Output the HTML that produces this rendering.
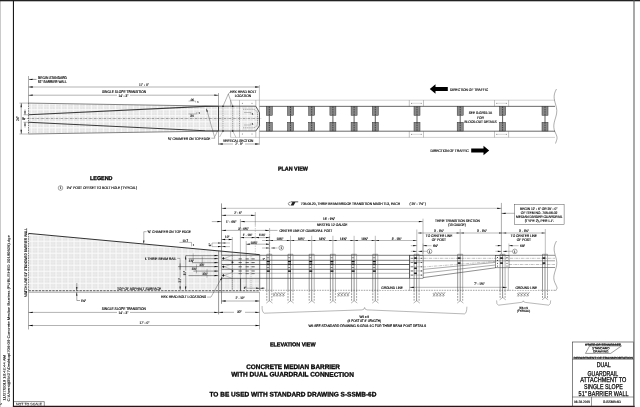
<!DOCTYPE html>
<html><head><meta charset="utf-8"><title>S-SSMB-6D</title>
<style>
html,body{margin:0;padding:0;background:#fff;}
body{width:640px;height:407px;overflow:hidden;}
svg{display:block;font-family:"Liberation Sans",sans-serif;filter:grayscale(1);}
text{fill:#000;}
</style></head><body>
<svg width="640" height="407" viewBox="0 0 640 407">
<rect width="640" height="407" fill="#fff"/>
<defs>
<pattern id="hc" x="30.8" y="109.2" width="6" height="6" patternUnits="userSpaceOnUse"><rect width="6" height="6" fill="#e4e4e4"/><rect x="3.3" width="0.7" height="6" fill="#eeeeee"/><rect y="3.3" width="6" height="0.7" fill="#eeeeee"/><rect width="1.2" height="6" fill="#fafafa"/><rect width="6" height="1.2" fill="#fafafa"/></pattern>
<pattern id="he" x="31.5" y="240.7" width="6" height="6" patternUnits="userSpaceOnUse"><rect width="6" height="6" fill="#e4e4e4"/><rect x="3.3" width="0.7" height="6" fill="#eeeeee"/><rect y="3.3" width="6" height="0.7" fill="#eeeeee"/><rect width="1.2" height="6" fill="#fafafa"/><rect width="6" height="1.2" fill="#fafafa"/></pattern>
</defs>
<rect x="0" y="0" width="0.9" height="407" fill="#c4c4c4" stroke="none" stroke-width="0.5"/>
<rect x="0" y="0" width="640" height="1.3" fill="#222" stroke="none" stroke-width="0.5"/>
<rect x="12.9" y="0" width="1.1" height="407" fill="#1a1a1a" stroke="none" stroke-width="0.5"/>
<rect x="633.5" y="0" width="1" height="407" fill="#555" stroke="none" stroke-width="0.5"/>
<rect x="12.9" y="405.75" width="621.7" height="1.25" fill="#1a1a1a" stroke="none" stroke-width="0.5"/>
<path d="M13 401.6 H44.3 V406" stroke="#222" stroke-width="0.5" fill="none"/>
<text x="16" y="405.33" font-size="3.42" textLength="26" lengthAdjust="spacingAndGlyphs" transform="rotate(0.03 16 405.33)" opacity="0.85" stroke="#000" stroke-width="0.1">NOT TO SCALE</text>
<text x="5.39" y="400.5" font-size="3.29" textLength="45.5" lengthAdjust="spacingAndGlyphs" transform="rotate(-89.97 5.39 400.5)" opacity="0.9" stroke="#000" stroke-width="0.1">11/27/2019 10:42:44 AM</text>
<text x="9.69" y="401.5" font-size="3.29" textLength="166.5" lengthAdjust="spacingAndGlyphs" transform="rotate(-89.97 9.69 401.5)" opacity="0.9" stroke="#000" stroke-width="0.1">C:\Users\jj05427\Desktop\706-09 Concrete Median Barriers (PUBLISHED 20190828).dgn</text>
<text x="2.2" y="405" font-size="3" transform="rotate(-89.97 2.2 405)" opacity="0.7" stroke="#000" stroke-width="0.15">↳</text>
<polygon points="28.5,103.1 218.5,106.2 255.8,106.2 259.5,112.7 259.5,125.7 255.8,131 218.5,131 28.5,134" fill="url(#hc)"/>
<line x1="28.5" y1="103.1" x2="218.5" y2="106.2" stroke="#666" stroke-width="0.8"/>
<line x1="28.5" y1="134" x2="218.5" y2="131" stroke="#666" stroke-width="0.8"/>
<path d="M28.5 114.75 L205 106.4 L218.5 106.2" stroke="#3a3a3a" stroke-width="1.1" fill="none"/>
<path d="M28.5 122.25 L205 130.7 L218.5 131" stroke="#3a3a3a" stroke-width="1.1" fill="none"/>
<line x1="22" y1="118.5" x2="262" y2="118.5" stroke="#333" stroke-width="0.4" stroke-dasharray="2.6 0.8 0.6 0.8"/>
<line x1="28.5" y1="76" x2="28.5" y2="103" stroke="#333" stroke-width="0.4"/>
<line x1="28.5" y1="103" x2="28.5" y2="134" stroke="#333" stroke-width="0.6" stroke-dasharray="1.6 0.8"/>
<text x="38.1" y="78.76" font-size="3.78" textLength="28.8" lengthAdjust="spacingAndGlyphs" transform="rotate(0.03 38.1 78.76)" stroke="#000" stroke-width="0.15">BEGIN STANDARD</text>
<text x="38.1" y="83.06" font-size="3.78" textLength="28.8" lengthAdjust="spacingAndGlyphs" transform="rotate(0.03 38.1 83.06)" stroke="#000" stroke-width="0.15">51" BARRIER WALL</text>
<line x1="29" y1="79.4" x2="36.5" y2="79.4" stroke="#000" stroke-width="0.4"/>
<polygon points="28.7,79.4 32.5,78.8 32.5,80" fill="#000"/>
<line x1="28.5" y1="87" x2="259.4" y2="87" stroke="#222" stroke-width="0.35"/>
<polygon points="28.5,87 32.7,86.35 32.7,87.65" fill="#000"/>
<polygon points="259.4,87 255.2,87.65 255.2,86.35" fill="#000"/>
<text x="139.12" y="85.92" font-size="3.66" textLength="9.77" lengthAdjust="spacingAndGlyphs" transform="rotate(0.03 139.12 85.92)" stroke="#000" stroke-width="0.15">17' - 0"</text>
<line x1="28.5" y1="95.2" x2="117" y2="95.2" stroke="#222" stroke-width="0.35"/>
<line x1="130" y1="95.2" x2="218.5" y2="95.2" stroke="#222" stroke-width="0.35"/>
<polygon points="28.5,95.2 32.7,94.55 32.7,95.85" fill="#000"/>
<polygon points="218.5,95.2 214.3,95.85 214.3,94.55" fill="#000"/>
<text x="102" y="92.86" font-size="3.78" textLength="44" lengthAdjust="spacingAndGlyphs" transform="rotate(0.03 102 92.86)" stroke="#000" stroke-width="0.15">SINGLE SLOPE TRANSITION</text>
<text x="118.62" y="96.52" font-size="3.66" textLength="9.77" lengthAdjust="spacingAndGlyphs" transform="rotate(0.03 118.62 96.52)" stroke="#000" stroke-width="0.15">14' - 3"</text>
<line x1="218.5" y1="93" x2="218.5" y2="144.8" stroke="#333" stroke-width="0.4"/>
<line x1="259.4" y1="85" x2="259.4" y2="144.8" stroke="#555" stroke-width="0.35"/>
<line x1="19.4" y1="103.1" x2="28.5" y2="103.1" stroke="#333" stroke-width="0.35"/>
<line x1="19.4" y1="134" x2="28.5" y2="134" stroke="#333" stroke-width="0.35"/>
<line x1="21.2" y1="103.1" x2="21.2" y2="134" stroke="#222" stroke-width="0.35"/>
<polygon points="21.2,103.1 21.85,107.3 20.55,107.3" fill="#000"/>
<polygon points="21.2,134 20.55,129.8 21.85,129.8" fill="#000"/>
<text x="19.22" y="120.7" font-size="3.66" textLength="4.2" lengthAdjust="spacingAndGlyphs" transform="rotate(-89.97 19.22 120.7)" stroke="#000" stroke-width="0.15">24"</text>
<line x1="23.5" y1="114.75" x2="28.5" y2="114.75" stroke="#333" stroke-width="0.35"/>
<line x1="23.5" y1="122.25" x2="28.5" y2="122.25" stroke="#333" stroke-width="0.35"/>
<line x1="25" y1="109.5" x2="25" y2="114.75" stroke="#000" stroke-width="0.35"/>
<polygon points="25,114.75 24.43,111.15 25.57,111.15" fill="#000"/>
<line x1="25" y1="127.5" x2="25" y2="122.25" stroke="#000" stroke-width="0.35"/>
<polygon points="25,122.25 25.57,125.85 24.43,125.85" fill="#000"/>
<text x="24.53" y="120" font-size="3.42" textLength="2.8" lengthAdjust="spacingAndGlyphs" transform="rotate(-89.97 24.53 120)" stroke="#000" stroke-width="0.15">8"</text>
<line x1="218.5" y1="106.2" x2="218.5" y2="131" stroke="#333" stroke-width="0.9"/>
<line x1="218.5" y1="106.2" x2="255.8" y2="106.2" stroke="#333" stroke-width="0.8"/>
<line x1="218.5" y1="131" x2="255.8" y2="131" stroke="#333" stroke-width="0.8"/>
<path d="M255.8 106.2 L259.5 112.7 V125.7 L255.8 131" stroke="#333" stroke-width="0.8" fill="none"/>
<path d="M243 109.3 H253 Q257.5 110 257.5 114 V123 Q257.5 127.5 253 127.8 H243" stroke="#444" stroke-width="0.45" fill="none" stroke-dasharray="1.4 0.7"/>
<line x1="223" y1="106.2" x2="223" y2="131" stroke="#444" stroke-width="0.45" stroke-dasharray="1.4 0.7"/>
<line x1="232.7" y1="106.2" x2="232.7" y2="131" stroke="#444" stroke-width="0.45" stroke-dasharray="1.4 0.7"/>
<line x1="239.5" y1="106.2" x2="239.5" y2="131" stroke="#444" stroke-width="0.45" stroke-dasharray="1.4 0.7"/>
<circle cx="223" cy="106.2" r="0.8" fill="#111"/>
<circle cx="223" cy="131" r="0.8" fill="#111"/>
<circle cx="232.7" cy="106.2" r="0.8" fill="#111"/>
<circle cx="232.7" cy="131" r="0.8" fill="#111"/>
<text x="251.9" y="115.05" font-size="2.93" textLength="1.4" lengthAdjust="spacingAndGlyphs" transform="rotate(0.03 251.9 115.05)" stroke="#000" stroke-width="0.15">1</text>
<text x="251.9" y="124.75" font-size="2.93" textLength="1.4" lengthAdjust="spacingAndGlyphs" transform="rotate(0.03 251.9 124.75)" stroke="#000" stroke-width="0.15">1</text>
<line x1="244" y1="112.5" x2="251" y2="112.5" stroke="#444" stroke-width="0.3"/>
<line x1="244" y1="125" x2="251" y2="125" stroke="#444" stroke-width="0.3"/>
<line x1="251" y1="112.5" x2="251" y2="114.5" stroke="#444" stroke-width="0.3"/>
<line x1="251" y1="125" x2="251" y2="123" stroke="#444" stroke-width="0.3"/>
<text x="230" y="93.02" font-size="3.66" textLength="26.3" lengthAdjust="spacingAndGlyphs" transform="rotate(0.03 230 93.02)" stroke="#000" stroke-width="0.15">HEX HEAD BOLT</text>
<text x="234.7" y="96.92" font-size="3.66" textLength="16.3" lengthAdjust="spacingAndGlyphs" transform="rotate(0.03 234.7 96.92)" stroke="#000" stroke-width="0.15">LOCATION</text>
<path d="M230 92 L228.3 94 L223.3 105.6 M228.3 94 L232.4 105.6" stroke="#222" stroke-width="0.35" fill="none"/>
<line x1="230.6" y1="100.2" x2="555" y2="100.2" stroke="#999" stroke-width="0.45"/>
<line x1="230.6" y1="137.4" x2="555" y2="137.4" stroke="#999" stroke-width="0.45"/>
<line x1="259.5" y1="106.35" x2="555" y2="106.35" stroke="#444" stroke-width="0.8"/>
<line x1="259.5" y1="131.2" x2="555" y2="131.2" stroke="#444" stroke-width="0.8"/>
<line x1="230.6" y1="100.2" x2="230.6" y2="106.2" stroke="#555" stroke-width="0.35"/>
<line x1="230.6" y1="131" x2="230.6" y2="137.4" stroke="#555" stroke-width="0.35"/>
<line x1="239.5" y1="100.2" x2="239.5" y2="106.2" stroke="#555" stroke-width="0.35"/>
<line x1="239.5" y1="131" x2="239.5" y2="137.4" stroke="#555" stroke-width="0.35"/>
<line x1="255.8" y1="100.2" x2="255.8" y2="106.2" stroke="#555" stroke-width="0.35"/>
<line x1="255.8" y1="131" x2="255.8" y2="137.4" stroke="#555" stroke-width="0.35"/>
<circle cx="242.3" cy="103.3" r="0.45" fill="#222"/>
<circle cx="242.3" cy="134" r="0.45" fill="#222"/>
<circle cx="252" cy="103.3" r="0.45" fill="#222"/>
<circle cx="252" cy="134" r="0.45" fill="#222"/>
<path d="M223 131 L219.5 137 M232.7 131 L236 137.5" stroke="#444" stroke-width="0.3" fill="none"/>
<rect x="266.3" y="106.6" width="6" height="8.7" fill="#8a8a8a" stroke="#333" stroke-width="0.5"/>
<rect x="266.3" y="122.3" width="6" height="8.7" fill="#8a8a8a" stroke="#333" stroke-width="0.5"/>
<line x1="269.3" y1="106.6" x2="269.3" y2="115.3" stroke="#111" stroke-width="0.6" stroke-dasharray="1.5 0.8"/>
<line x1="269.3" y1="122.3" x2="269.3" y2="131" stroke="#111" stroke-width="0.6" stroke-dasharray="1.5 0.8"/>
<line x1="269.3" y1="115.3" x2="269.3" y2="122.3" stroke="#333" stroke-width="0.8"/>
<rect x="287.5" y="106.6" width="6" height="8.7" fill="#8a8a8a" stroke="#333" stroke-width="0.5"/>
<rect x="287.5" y="122.3" width="6" height="8.7" fill="#8a8a8a" stroke="#333" stroke-width="0.5"/>
<line x1="290.5" y1="106.6" x2="290.5" y2="115.3" stroke="#111" stroke-width="0.6" stroke-dasharray="1.5 0.8"/>
<line x1="290.5" y1="122.3" x2="290.5" y2="131" stroke="#111" stroke-width="0.6" stroke-dasharray="1.5 0.8"/>
<line x1="290.5" y1="115.3" x2="290.5" y2="122.3" stroke="#333" stroke-width="0.8"/>
<rect x="308.7" y="106.6" width="6" height="8.7" fill="#8a8a8a" stroke="#333" stroke-width="0.5"/>
<rect x="308.7" y="122.3" width="6" height="8.7" fill="#8a8a8a" stroke="#333" stroke-width="0.5"/>
<line x1="311.7" y1="106.6" x2="311.7" y2="115.3" stroke="#111" stroke-width="0.6" stroke-dasharray="1.5 0.8"/>
<line x1="311.7" y1="122.3" x2="311.7" y2="131" stroke="#111" stroke-width="0.6" stroke-dasharray="1.5 0.8"/>
<line x1="311.7" y1="115.3" x2="311.7" y2="122.3" stroke="#333" stroke-width="0.8"/>
<rect x="329.9" y="106.6" width="6" height="8.7" fill="#8a8a8a" stroke="#333" stroke-width="0.5"/>
<rect x="329.9" y="122.3" width="6" height="8.7" fill="#8a8a8a" stroke="#333" stroke-width="0.5"/>
<line x1="332.9" y1="106.6" x2="332.9" y2="115.3" stroke="#111" stroke-width="0.6" stroke-dasharray="1.5 0.8"/>
<line x1="332.9" y1="122.3" x2="332.9" y2="131" stroke="#111" stroke-width="0.6" stroke-dasharray="1.5 0.8"/>
<line x1="332.9" y1="115.3" x2="332.9" y2="122.3" stroke="#333" stroke-width="0.8"/>
<rect x="351.1" y="106.6" width="6" height="8.7" fill="#8a8a8a" stroke="#333" stroke-width="0.5"/>
<rect x="351.1" y="122.3" width="6" height="8.7" fill="#8a8a8a" stroke="#333" stroke-width="0.5"/>
<line x1="354.1" y1="106.6" x2="354.1" y2="115.3" stroke="#111" stroke-width="0.6" stroke-dasharray="1.5 0.8"/>
<line x1="354.1" y1="122.3" x2="354.1" y2="131" stroke="#111" stroke-width="0.6" stroke-dasharray="1.5 0.8"/>
<line x1="354.1" y1="115.3" x2="354.1" y2="122.3" stroke="#333" stroke-width="0.8"/>
<rect x="372.3" y="106.6" width="6" height="8.7" fill="#8a8a8a" stroke="#333" stroke-width="0.5"/>
<rect x="372.3" y="122.3" width="6" height="8.7" fill="#8a8a8a" stroke="#333" stroke-width="0.5"/>
<line x1="375.3" y1="106.6" x2="375.3" y2="115.3" stroke="#111" stroke-width="0.6" stroke-dasharray="1.5 0.8"/>
<line x1="375.3" y1="122.3" x2="375.3" y2="131" stroke="#111" stroke-width="0.6" stroke-dasharray="1.5 0.8"/>
<line x1="375.3" y1="115.3" x2="375.3" y2="122.3" stroke="#333" stroke-width="0.8"/>
<rect x="414" y="106.6" width="6" height="8.7" fill="#8a8a8a" stroke="#333" stroke-width="0.5"/>
<rect x="414" y="122.3" width="6" height="8.7" fill="#8a8a8a" stroke="#333" stroke-width="0.5"/>
<line x1="417" y1="106.6" x2="417" y2="115.3" stroke="#111" stroke-width="0.6" stroke-dasharray="1.5 0.8"/>
<line x1="417" y1="122.3" x2="417" y2="131" stroke="#111" stroke-width="0.6" stroke-dasharray="1.5 0.8"/>
<line x1="417" y1="115.3" x2="417" y2="122.3" stroke="#333" stroke-width="0.8"/>
<rect x="457.2" y="106.6" width="6" height="8.7" fill="#8a8a8a" stroke="#333" stroke-width="0.5"/>
<rect x="457.2" y="122.3" width="6" height="8.7" fill="#8a8a8a" stroke="#333" stroke-width="0.5"/>
<line x1="460.2" y1="106.6" x2="460.2" y2="115.3" stroke="#111" stroke-width="0.6" stroke-dasharray="1.5 0.8"/>
<line x1="460.2" y1="122.3" x2="460.2" y2="131" stroke="#111" stroke-width="0.6" stroke-dasharray="1.5 0.8"/>
<line x1="460.2" y1="115.3" x2="460.2" y2="122.3" stroke="#333" stroke-width="0.8"/>
<rect x="499.6" y="106.6" width="6" height="8.7" fill="#8a8a8a" stroke="#333" stroke-width="0.5"/>
<rect x="499.6" y="122.3" width="6" height="8.7" fill="#8a8a8a" stroke="#333" stroke-width="0.5"/>
<line x1="502.6" y1="106.6" x2="502.6" y2="115.3" stroke="#111" stroke-width="0.6" stroke-dasharray="1.5 0.8"/>
<line x1="502.6" y1="122.3" x2="502.6" y2="131" stroke="#111" stroke-width="0.6" stroke-dasharray="1.5 0.8"/>
<line x1="502.6" y1="115.3" x2="502.6" y2="122.3" stroke="#333" stroke-width="0.8"/>
<rect x="542" y="106.6" width="6" height="8.7" fill="#8a8a8a" stroke="#333" stroke-width="0.5"/>
<rect x="542" y="122.3" width="6" height="8.7" fill="#8a8a8a" stroke="#333" stroke-width="0.5"/>
<line x1="545" y1="106.6" x2="545" y2="115.3" stroke="#111" stroke-width="0.6" stroke-dasharray="1.5 0.8"/>
<line x1="545" y1="122.3" x2="545" y2="131" stroke="#111" stroke-width="0.6" stroke-dasharray="1.5 0.8"/>
<line x1="545" y1="115.3" x2="545" y2="122.3" stroke="#333" stroke-width="0.8"/>
<line x1="409.3" y1="100.2" x2="409.3" y2="106.3" stroke="#555" stroke-width="0.35"/>
<line x1="423.5" y1="100.2" x2="423.5" y2="106.3" stroke="#555" stroke-width="0.35"/>
<line x1="411.8" y1="103.25" x2="421" y2="103.25" stroke="#666" stroke-width="0.25"/>
<circle cx="411.6" cy="103.25" r="0.45" fill="#222"/>
<circle cx="421.2" cy="103.25" r="0.45" fill="#222"/>
<line x1="409.3" y1="131.2" x2="409.3" y2="137.4" stroke="#555" stroke-width="0.35"/>
<line x1="423.5" y1="131.2" x2="423.5" y2="137.4" stroke="#555" stroke-width="0.35"/>
<line x1="411.8" y1="134.3" x2="421" y2="134.3" stroke="#666" stroke-width="0.25"/>
<circle cx="411.6" cy="134.3" r="0.45" fill="#222"/>
<circle cx="421.2" cy="134.3" r="0.45" fill="#222"/>
<line x1="494.5" y1="100.2" x2="494.5" y2="106.3" stroke="#555" stroke-width="0.35"/>
<line x1="508.6" y1="100.2" x2="508.6" y2="106.3" stroke="#555" stroke-width="0.35"/>
<line x1="497" y1="103.25" x2="506.1" y2="103.25" stroke="#666" stroke-width="0.25"/>
<circle cx="496.8" cy="103.25" r="0.45" fill="#222"/>
<circle cx="506.3" cy="103.25" r="0.45" fill="#222"/>
<line x1="494.5" y1="131.2" x2="494.5" y2="137.4" stroke="#555" stroke-width="0.35"/>
<line x1="508.6" y1="131.2" x2="508.6" y2="137.4" stroke="#555" stroke-width="0.35"/>
<line x1="497" y1="134.3" x2="506.1" y2="134.3" stroke="#666" stroke-width="0.25"/>
<circle cx="496.8" cy="134.3" r="0.45" fill="#222"/>
<circle cx="506.3" cy="134.3" r="0.45" fill="#222"/>
<path d="M556.5 89 C553 95 554 99 555.5 104 S557.5 112 555.5 118 S553 128 555.5 133 S557 139 555.5 143.5" stroke="#333" stroke-width="0.4" fill="none"/>
<polygon points="429.8,89 435.5,84.3 435.5,87 447.8,87 447.8,91 435.5,91 435.5,93.7" fill="#000"/>
<text x="450" y="90.52" font-size="3.66" textLength="38" lengthAdjust="spacingAndGlyphs" transform="rotate(0.03 450 90.52)" stroke="#000" stroke-width="0.15">DIRECTION OF TRAFFIC</text>
<polygon points="489.2,150.5 483.5,145.8 483.5,148.5 471.2,148.5 471.2,152.5 483.5,152.5 483.5,155.2" fill="#000"/>
<text x="430.5" y="151.92" font-size="3.66" textLength="38.2" lengthAdjust="spacingAndGlyphs" transform="rotate(0.03 430.5 151.92)" stroke="#000" stroke-width="0.15">DIRECTION OF TRAFFIC</text>
<text x="468.78" y="114.32" font-size="3.66" textLength="23.44" lengthAdjust="spacingAndGlyphs" transform="rotate(0.03 468.78 114.32)" stroke="#000" stroke-width="0.15">SEE S-GR31-1A</text>
<text x="477.18" y="118.82" font-size="3.66" textLength="6.64" lengthAdjust="spacingAndGlyphs" transform="rotate(0.03 477.18 118.82)" stroke="#000" stroke-width="0.15">FOR</text>
<text x="464.47" y="123.32" font-size="3.66" textLength="32.07" lengthAdjust="spacingAndGlyphs" transform="rotate(0.03 464.47 123.32)" stroke="#000" stroke-width="0.15">BLOCK-OUT DETAILS</text>
<text x="168" y="139.62" font-size="3.66" textLength="42.4" lengthAdjust="spacingAndGlyphs" transform="rotate(0.03 168 139.62)" stroke="#000" stroke-width="0.15">¾" CHAMFER ON TOP EDGE</text>
<path d="M211.3 138.2 H214.9 L206.5 108.9 M214.9 136.6 L217.6 130.8" stroke="#222" stroke-width="0.35" fill="none"/>
<polygon points="206.3,108.2 207.79,111.53 206.68,111.83" fill="#000"/>
<text x="189.86" y="100.73" font-size="3.42" textLength="4.08" lengthAdjust="spacingAndGlyphs" transform="rotate(0.03 189.86 100.73)" stroke="#000" stroke-width="0.15">.06</text>
<path d="M188.5 101.1 H195.6 V102.6" stroke="#333" stroke-width="0.3" fill="none"/>
<text x="197.3" y="103.45" font-size="2.93" textLength="1.4" lengthAdjust="spacingAndGlyphs" transform="rotate(0.03 197.3 103.45)" stroke="#000" stroke-width="0.15">1</text>
<text x="190.27" y="116.93" font-size="3.42" textLength="3.27" lengthAdjust="spacingAndGlyphs" transform="rotate(0.03 190.27 116.93)" stroke="#000" stroke-width="0.15">34</text>
<path d="M188.5 113.9 H196.8 V112" stroke="#333" stroke-width="0.3" fill="none"/>
<text x="198.6" y="113.85" font-size="2.93" textLength="1.4" lengthAdjust="spacingAndGlyphs" transform="rotate(0.03 198.6 113.85)" stroke="#000" stroke-width="0.15">1</text>
<text x="223" y="141.82" font-size="3.66" textLength="30.3" lengthAdjust="spacingAndGlyphs" transform="rotate(0.03 223 141.82)" stroke="#000" stroke-width="0.15">VERTICAL SECTION</text>
<line x1="218.5" y1="144" x2="233" y2="144" stroke="#222" stroke-width="0.35"/>
<line x1="245" y1="144" x2="259.4" y2="144" stroke="#222" stroke-width="0.35"/>
<polygon points="218.5,144 222.7,143.35 222.7,144.65" fill="#000"/>
<polygon points="259.4,144 255.2,144.65 255.2,143.35" fill="#000"/>
<text x="235.26" y="145.23" font-size="3.42" textLength="7.48" lengthAdjust="spacingAndGlyphs" transform="rotate(0.03 235.26 145.23)" stroke="#000" stroke-width="0.15">2' - 9"</text>
<text x="277.9" y="170.52" font-size="5.6" font-weight="bold" textLength="30" lengthAdjust="spacingAndGlyphs" transform="rotate(0.03 277.9 170.52)" stroke="#000" stroke-width="0.3">PLAN VIEW</text>
<text x="90" y="180.02" font-size="5.6" font-weight="bold" textLength="22.5" lengthAdjust="spacingAndGlyphs" transform="rotate(0.03 90 180.02)" stroke="#000" stroke-width="0.3">LEGEND</text>
<circle cx="60.5" cy="188" r="2.3" fill="none" stroke="#222" stroke-width="0.4"/>
<text x="59.68" y="189.23" font-size="3.42" textLength="1.63" lengthAdjust="spacingAndGlyphs" transform="rotate(0.03 59.68 189.23)" stroke="#000" stroke-width="0.15">1</text>
<text x="66.5" y="189.32" font-size="3.66" textLength="70.5" lengthAdjust="spacingAndGlyphs" transform="rotate(0.03 66.5 189.32)" stroke="#000" stroke-width="0.15">1½" POST OFFSET TO BOLT HOLE (TYPICAL)</text>
<polygon points="28.5,233.4 259.7,254.68 259.7,290.3 28.5,290.3" fill="url(#he)"/>
<line x1="28.5" y1="233.4" x2="259.7" y2="254.68" stroke="#333" stroke-width="1"/>
<line x1="28.5" y1="233.4" x2="28.5" y2="290.3" stroke="#333" stroke-width="0.6" stroke-dasharray="1.6 0.8"/>
<line x1="28.5" y1="290.3" x2="28.5" y2="329.5" stroke="#333" stroke-width="0.4"/>
<text x="26.72" y="296.9" font-size="3.66" textLength="68.6" lengthAdjust="spacingAndGlyphs" transform="rotate(-89.97 26.72 296.9)" stroke="#000" stroke-width="0.15">MATCH LINE 51" STANDARD BARRIER WALL</text>
<line x1="28.5" y1="290.7" x2="259.7" y2="290.7" stroke="#333" stroke-width="0.8" stroke-dasharray="2.4 1"/>
<line x1="28.5" y1="292.2" x2="259.5" y2="292.2" stroke="#444" stroke-width="0.5"/>
<text x="116.9" y="289.52" font-size="3.66" textLength="44.2" lengthAdjust="spacingAndGlyphs" transform="rotate(0.03 116.9 289.52)" stroke="#000" stroke-width="0.15">TOP OF ASPHALT SURFACE</text>
<line x1="76.8" y1="283" x2="76.8" y2="290.7" stroke="#000" stroke-width="0.35"/>
<polygon points="76.8,290.7 76.22,287.1 77.38,287.1" fill="#000"/>
<line x1="76.8" y1="300.5" x2="76.8" y2="292.2" stroke="#000" stroke-width="0.35"/>
<polygon points="76.8,292.2 77.38,295.8 76.22,295.8" fill="#000"/>
<line x1="76.8" y1="300.5" x2="80" y2="300.5" stroke="#000" stroke-width="0.35"/>
<text x="80.94" y="301.83" font-size="3.42" textLength="5.13" lengthAdjust="spacingAndGlyphs" transform="rotate(0.03 80.94 301.83)" stroke="#000" stroke-width="0.15">1½"</text>
<line x1="28.5" y1="312.4" x2="117" y2="312.4" stroke="#222" stroke-width="0.35"/>
<line x1="130" y1="312.4" x2="218.5" y2="312.4" stroke="#222" stroke-width="0.35"/>
<polygon points="28.5,312.4 32.7,311.75 32.7,313.05" fill="#000"/>
<polygon points="218.5,312.4 214.3,313.05 214.3,311.75" fill="#000"/>
<text x="101.8" y="309.86" font-size="3.78" textLength="44" lengthAdjust="spacingAndGlyphs" transform="rotate(0.03 101.8 309.86)" stroke="#000" stroke-width="0.15">SINGLE SLOPE TRANSITION</text>
<text x="118.62" y="313.72" font-size="3.66" textLength="9.77" lengthAdjust="spacingAndGlyphs" transform="rotate(0.03 118.62 313.72)" stroke="#000" stroke-width="0.15">14' - 3"</text>
<line x1="28.5" y1="325.5" x2="259.7" y2="325.5" stroke="#222" stroke-width="0.35"/>
<polygon points="28.5,325.5 32.7,324.85 32.7,326.15" fill="#000"/>
<polygon points="259.7,325.5 255.5,326.15 255.5,324.85" fill="#000"/>
<text x="139.62" y="324.32" font-size="3.66" textLength="9.77" lengthAdjust="spacingAndGlyphs" transform="rotate(0.03 139.62 324.32)" stroke="#000" stroke-width="0.15">17' - 0"</text>
<text x="147.4" y="233.02" font-size="3.66" textLength="43.6" lengthAdjust="spacingAndGlyphs" transform="rotate(0.03 147.4 233.02)" stroke="#000" stroke-width="0.15">¾" CHAMFER ON TOP EDGE</text>
<path d="M146.6 231.7 H143.8 V243" stroke="#222" stroke-width="0.35" fill="none"/>
<polygon points="143.8,244 143.23,240.4 144.38,240.4" fill="#000"/>
<path d="M179.4 242.4 H191.5 V246.3" stroke="#333" stroke-width="0.35" fill="none"/>
<text x="182.44" y="241.73" font-size="3.42" textLength="5.72" lengthAdjust="spacingAndGlyphs" transform="rotate(0.03 182.44 241.73)" stroke="#000" stroke-width="0.15">10.7</text>
<text x="192.7" y="245.65" font-size="2.93" textLength="1.4" lengthAdjust="spacingAndGlyphs" transform="rotate(0.03 192.7 245.65)" stroke="#000" stroke-width="0.15">1</text>
<text x="144.9" y="259.72" font-size="3.66" textLength="31.4" lengthAdjust="spacingAndGlyphs" transform="rotate(0.03 144.9 259.72)" stroke="#000" stroke-width="0.15">℄ THRIE BEAM RAIL</text>
<path d="M177.3 258.4 H180.1 V277.6 M180.1 283 V289.6" stroke="#333" stroke-width="0.35" fill="none"/>
<line x1="180.1" y1="263.4" x2="180.1" y2="269.8" stroke="#555" stroke-width="0.7"/>
<polygon points="180.1,290.2 179.5,286.4 180.7,286.4" fill="#000"/>
<text x="181.33" y="282.4" font-size="3.42" textLength="4.2" lengthAdjust="spacingAndGlyphs" transform="rotate(-89.97 181.33 282.4)" stroke="#000" stroke-width="0.15">21"</text>
<line x1="185.7" y1="255.6" x2="185.7" y2="270.6" stroke="#222" stroke-width="0.35"/>
<line x1="185.7" y1="275.6" x2="185.7" y2="289.6" stroke="#222" stroke-width="0.35"/>
<polygon points="185.7,255.6 186.3,259.4 185.1,259.4" fill="#000"/>
<polygon points="185.7,290.2 185.1,286.4 186.3,286.4" fill="#000"/>
<text x="186.43" y="275.3" font-size="3.42" textLength="4.3" lengthAdjust="spacingAndGlyphs" transform="rotate(-89.97 186.43 275.3)" stroke="#000" stroke-width="0.15">31"</text>
<line x1="185.7" y1="255.6" x2="218.3" y2="255.6" stroke="#222" stroke-width="0.45"/>
<polygon points="218.3,255.6 214.5,256.2 214.5,255" fill="#000"/>
<line x1="188.5" y1="258.7" x2="218.3" y2="258.7" stroke="#222" stroke-width="0.45"/>
<polygon points="218.3,258.7 214.5,259.3 214.5,258.1" fill="#000"/>
<line x1="192" y1="262.7" x2="218.3" y2="262.7" stroke="#222" stroke-width="0.45"/>
<polygon points="218.3,262.7 214.5,263.3 214.5,262.1" fill="#000"/>
<line x1="178" y1="266.6" x2="218.3" y2="266.6" stroke="#222" stroke-width="0.45"/>
<polygon points="218.3,266.6 214.5,267.2 214.5,266" fill="#000"/>
<line x1="193.4" y1="271.1" x2="218.3" y2="271.1" stroke="#222" stroke-width="0.45"/>
<polygon points="218.3,271.1 214.5,271.7 214.5,270.5" fill="#000"/>
<line x1="188.5" y1="275.6" x2="218.3" y2="275.6" stroke="#222" stroke-width="0.45"/>
<polygon points="218.3,275.6 214.5,276.2 214.5,275" fill="#000"/>
<text x="188.83" y="261.79" font-size="3.29" textLength="4.94" lengthAdjust="spacingAndGlyphs" transform="rotate(0.03 188.83 261.79)" stroke="#000" stroke-width="0.15">3⅞"</text>
<text x="199.43" y="265.99" font-size="3.29" textLength="4.94" lengthAdjust="spacingAndGlyphs" transform="rotate(0.03 199.43 265.99)" stroke="#000" stroke-width="0.15">3⅞"</text>
<text x="191.63" y="270.19" font-size="3.29" textLength="4.94" lengthAdjust="spacingAndGlyphs" transform="rotate(0.03 191.63 270.19)" stroke="#000" stroke-width="0.15">3⅞"</text>
<text x="202.53" y="274.79" font-size="3.29" textLength="4.94" lengthAdjust="spacingAndGlyphs" transform="rotate(0.03 202.53 274.79)" stroke="#000" stroke-width="0.15">3⅞"</text>
<line x1="193.2" y1="253.4" x2="193.2" y2="260.9" stroke="#333" stroke-width="0.3"/>
<line x1="202.3" y1="256.5" x2="202.3" y2="264.9" stroke="#333" stroke-width="0.3"/>
<line x1="196.5" y1="264.4" x2="196.5" y2="273.3" stroke="#333" stroke-width="0.3"/>
<line x1="207" y1="268.9" x2="207" y2="277.8" stroke="#333" stroke-width="0.3"/>
<line x1="218.6" y1="250.88" x2="218.6" y2="314.4" stroke="#333" stroke-width="0.5"/>
<line x1="221.5" y1="203.4" x2="221.5" y2="303.8" stroke="#333" stroke-width="0.5"/>
<rect x="221.8" y="255.8" width="37.6" height="22.6" fill="#fff" stroke="none" stroke-width="0.5"/>
<rect x="221.8" y="255.8" width="37.6" height="22.6" fill="url(#he)" opacity="0.45"/>
<polygon points="222.1,258.4 223.4,257.1 224.7,258.4 223.4,259.7" fill="#111"/>
<path d="M224.6 258.4 L232.5 255.2 M224.6 258.4 L232.5 261.6" stroke="#444" stroke-width="0.3" fill="none"/>
<polygon points="222.1,266.8 223.4,265.5 224.7,266.8 223.4,268.1" fill="#111"/>
<path d="M224.6 266.8 L232.5 263.6 M224.6 266.8 L232.5 270" stroke="#444" stroke-width="0.3" fill="none"/>
<polygon points="222.1,275.4 223.4,274.1 224.7,275.4 223.4,276.7" fill="#111"/>
<path d="M224.6 275.4 L232.5 272.2 M224.6 275.4 L232.5 278.6" stroke="#444" stroke-width="0.3" fill="none"/>
<polygon points="231.4,262.3 232.5,261.2 233.6,262.3 232.5,263.4" fill="#111"/>
<polygon points="231.4,271 232.5,269.9 233.6,271 232.5,272.1" fill="#111"/>
<line x1="238.6" y1="258.9" x2="241.8" y2="258.9" stroke="#222" stroke-width="0.7"/>
<line x1="245.6" y1="258.9" x2="248.8" y2="258.9" stroke="#222" stroke-width="0.7"/>
<line x1="251.5" y1="258.9" x2="254.7" y2="258.9" stroke="#222" stroke-width="0.7"/>
<line x1="238.6" y1="262.6" x2="241.8" y2="262.6" stroke="#222" stroke-width="0.7"/>
<line x1="245.6" y1="262.6" x2="248.8" y2="262.6" stroke="#222" stroke-width="0.7"/>
<line x1="251.5" y1="262.6" x2="254.7" y2="262.6" stroke="#222" stroke-width="0.7"/>
<line x1="238.6" y1="266.8" x2="241.8" y2="266.8" stroke="#222" stroke-width="0.7"/>
<line x1="245.6" y1="266.8" x2="248.8" y2="266.8" stroke="#222" stroke-width="0.7"/>
<line x1="251.5" y1="266.8" x2="254.7" y2="266.8" stroke="#222" stroke-width="0.7"/>
<line x1="238.6" y1="271" x2="241.8" y2="271" stroke="#222" stroke-width="0.7"/>
<line x1="245.6" y1="271" x2="248.8" y2="271" stroke="#222" stroke-width="0.7"/>
<line x1="251.5" y1="271" x2="254.7" y2="271" stroke="#222" stroke-width="0.7"/>
<line x1="238.6" y1="273.6" x2="241.8" y2="273.6" stroke="#222" stroke-width="0.7"/>
<line x1="245.6" y1="273.6" x2="248.8" y2="273.6" stroke="#222" stroke-width="0.7"/>
<line x1="251.5" y1="273.6" x2="254.7" y2="273.6" stroke="#222" stroke-width="0.7"/>
<text x="161.1" y="298.42" font-size="3.66" textLength="45" lengthAdjust="spacingAndGlyphs" transform="rotate(0.03 161.1 298.42)" stroke="#000" stroke-width="0.15">HEX HEAD BOLT LOCATIONS</text>
<path d="M207 297.1 H211 L222 277.2" stroke="#222" stroke-width="0.35" fill="none"/>
<polygon points="222.3,276.6 221.29,280.31 220.19,279.82" fill="#000"/>
<line x1="221.6" y1="208.3" x2="501.4" y2="208.3" stroke="#555" stroke-width="0.35"/>
<polygon points="221.6,208.3 225.8,207.65 225.8,208.95" fill="#000"/>
<polygon points="501.4,208.3 497.2,208.95 497.2,207.65" fill="#000"/>
<line x1="221.6" y1="215.3" x2="255.3" y2="215.3" stroke="#222" stroke-width="0.35"/>
<polygon points="221.6,215.3 225.8,214.65 225.8,215.95" fill="#000"/>
<polygon points="255.3,215.3 251.1,215.95 251.1,214.65" fill="#000"/>
<text x="234.13" y="214.37" font-size="3.54" textLength="7.75" lengthAdjust="spacingAndGlyphs" transform="rotate(0.03 234.13 214.37)" stroke="#000" stroke-width="0.15">2' - 6"</text>
<line x1="255.3" y1="212" x2="255.3" y2="225.5" stroke="#444" stroke-width="0.35"/>
<line x1="255.3" y1="225.5" x2="255.3" y2="255" stroke="#666" stroke-width="0.3" stroke-dasharray="1.5 1"/>
<line x1="211.8" y1="221.6" x2="221.6" y2="221.6" stroke="#222" stroke-width="0.35"/>
<polygon points="221.6,221.6 217.4,222.25 217.4,220.95" fill="#000"/>
<text x="226.06" y="222.87" font-size="3.54" textLength="10.29" lengthAdjust="spacingAndGlyphs" transform="rotate(0.03 226.06 222.87)" stroke="#000" stroke-width="0.15">1' - 4½"</text>
<line x1="240.4" y1="221.6" x2="423" y2="221.6" stroke="#555" stroke-width="0.35"/>
<polygon points="240.4,221.6 244.6,220.95 244.6,222.25" fill="#000"/>
<polygon points="423,221.6 418.8,222.25 418.8,220.95" fill="#000"/>
<line x1="240.4" y1="219" x2="240.4" y2="290" stroke="#444" stroke-width="0.35"/>
<text x="323.11" y="219.87" font-size="3.54" textLength="11.98" lengthAdjust="spacingAndGlyphs" transform="rotate(0.03 323.11 219.87)" stroke="#000" stroke-width="0.15">18' - 9¾"</text>
<text x="317" y="226.32" font-size="3.66" textLength="30.4" lengthAdjust="spacingAndGlyphs" transform="rotate(0.03 317 226.32)" stroke="#000" stroke-width="0.15">NESTED 12 GAUGE</text>
<line x1="221.6" y1="230.4" x2="269.6" y2="230.4" stroke="#222" stroke-width="0.35"/>
<polygon points="221.6,230.4 225.8,229.75 225.8,231.05" fill="#000"/>
<polygon points="269.6,230.4 265.4,231.05 265.4,229.75" fill="#000"/>
<text x="238.36" y="229.57" font-size="3.54" textLength="10.29" lengthAdjust="spacingAndGlyphs" transform="rotate(0.03 238.36 229.57)" stroke="#000" stroke-width="0.15">3' - 6⅜"</text>
<line x1="269.6" y1="230.4" x2="277.5" y2="230.4" stroke="#222" stroke-width="0.35"/>
<text x="279.4" y="231.52" font-size="3.66" textLength="52.8" lengthAdjust="spacingAndGlyphs" transform="rotate(0.03 279.4 231.52)" stroke="#000" stroke-width="0.15">CENTER LINE OF GUARDRAIL POST</text>
<line x1="221.6" y1="239.5" x2="232.3" y2="239.5" stroke="#222" stroke-width="0.35"/>
<polygon points="221.6,239.5 225.2,238.85 225.2,240.15" fill="#000"/>
<polygon points="232.3,239.5 228.7,240.15 228.7,238.85" fill="#000"/>
<text x="225.04" y="237.83" font-size="3.42" textLength="4.31" lengthAdjust="spacingAndGlyphs" transform="rotate(0.03 225.04 237.83)" stroke="#000" stroke-width="0.15">10"</text>
<line x1="232.3" y1="237" x2="232.3" y2="290" stroke="#444" stroke-width="0.35"/>
<line x1="240.4" y1="237.6" x2="269.6" y2="237.6" stroke="#222" stroke-width="0.35"/>
<polygon points="240.4,237.6 244,236.95 244,238.25" fill="#000"/>
<polygon points="255.3,237.6 251.7,238.25 251.7,236.95" fill="#000"/>
<polygon points="255.3,237.6 258.9,236.95 258.9,238.25" fill="#000"/>
<polygon points="269.6,237.6 266,238.25 266,236.95" fill="#000"/>
<text x="242.81" y="236.29" font-size="3.29" textLength="9.58" lengthAdjust="spacingAndGlyphs" transform="rotate(0.03 242.81 236.29)" stroke="#000" stroke-width="0.15">1' - 1½"</text>
<text x="258.95" y="236.29" font-size="3.29" textLength="6.31" lengthAdjust="spacingAndGlyphs" transform="rotate(0.03 258.95 236.29)" stroke="#000" stroke-width="0.15">11⅛"</text>
<line x1="246.2" y1="244.2" x2="269.6" y2="244.2" stroke="#222" stroke-width="0.35"/>
<polygon points="246.2,244.2 249.8,243.55 249.8,244.85" fill="#000"/>
<polygon points="269.6,244.2 266,244.85 266,243.55" fill="#000"/>
<text x="250.62" y="243.53" font-size="3.42" textLength="6.76" lengthAdjust="spacingAndGlyphs" transform="rotate(0.03 250.62 243.53)" stroke="#000" stroke-width="0.15">18¾"</text>
<line x1="246.2" y1="241" x2="246.2" y2="290" stroke="#444" stroke-width="0.35"/>
<text x="210.94" y="246.5" font-size="3.17" textLength="3.5" lengthAdjust="spacingAndGlyphs" transform="rotate(-89.97 210.94 246.5)" stroke="#000" stroke-width="0.15">1"</text>
<line x1="212" y1="243" x2="221.6" y2="243" stroke="#222" stroke-width="0.3"/>
<polygon points="221.6,243 218,243.57 218,242.43" fill="#000"/>
<line x1="221.6" y1="243" x2="230" y2="243" stroke="#222" stroke-width="0.3"/>
<polygon points="221.8,243 225.4,242.43 225.4,243.57" fill="#000"/>
<line x1="212" y1="246.6" x2="221.6" y2="246.6" stroke="#222" stroke-width="0.3"/>
<polygon points="221.6,246.6 218,247.17 218,246.03" fill="#000"/>
<line x1="221.6" y1="246.6" x2="230" y2="246.6" stroke="#222" stroke-width="0.3"/>
<polygon points="221.8,246.6 225.4,246.03 225.4,247.17" fill="#000"/>
<line x1="212" y1="243" x2="212" y2="246.6" stroke="#222" stroke-width="0.3"/>
<line x1="269.3" y1="235.8" x2="269.3" y2="254.3" stroke="#444" stroke-width="0.35"/>
<line x1="290.5" y1="235.8" x2="290.5" y2="254.3" stroke="#444" stroke-width="0.35"/>
<line x1="269.3" y1="240.5" x2="290.5" y2="240.5" stroke="#333" stroke-width="0.35"/>
<polygon points="269.3,240.5 272.9,239.93 272.9,241.07" fill="#000"/>
<polygon points="290.5,240.5 286.9,241.07 286.9,239.93" fill="#000"/>
<text x="276.52" y="239.73" font-size="3.42" textLength="6.76" lengthAdjust="spacingAndGlyphs" transform="rotate(0.03 276.52 239.73)" stroke="#000" stroke-width="0.15">18¾"</text>
<line x1="311.7" y1="235.8" x2="311.7" y2="254.3" stroke="#444" stroke-width="0.35"/>
<line x1="290.5" y1="240.5" x2="311.7" y2="240.5" stroke="#333" stroke-width="0.35"/>
<polygon points="290.5,240.5 294.1,239.93 294.1,241.07" fill="#000"/>
<polygon points="311.7,240.5 308.1,241.07 308.1,239.93" fill="#000"/>
<text x="297.72" y="239.73" font-size="3.42" textLength="6.76" lengthAdjust="spacingAndGlyphs" transform="rotate(0.03 297.72 239.73)" stroke="#000" stroke-width="0.15">18¾"</text>
<line x1="332.9" y1="235.8" x2="332.9" y2="254.3" stroke="#444" stroke-width="0.35"/>
<line x1="311.7" y1="240.5" x2="332.9" y2="240.5" stroke="#333" stroke-width="0.35"/>
<polygon points="311.7,240.5 315.3,239.93 315.3,241.07" fill="#000"/>
<polygon points="332.9,240.5 329.3,241.07 329.3,239.93" fill="#000"/>
<text x="318.92" y="239.73" font-size="3.42" textLength="6.76" lengthAdjust="spacingAndGlyphs" transform="rotate(0.03 318.92 239.73)" stroke="#000" stroke-width="0.15">18¾"</text>
<line x1="354.1" y1="235.8" x2="354.1" y2="254.3" stroke="#444" stroke-width="0.35"/>
<line x1="332.9" y1="240.5" x2="354.1" y2="240.5" stroke="#333" stroke-width="0.35"/>
<polygon points="332.9,240.5 336.5,239.93 336.5,241.07" fill="#000"/>
<polygon points="354.1,240.5 350.5,241.07 350.5,239.93" fill="#000"/>
<text x="340.12" y="239.73" font-size="3.42" textLength="6.76" lengthAdjust="spacingAndGlyphs" transform="rotate(0.03 340.12 239.73)" stroke="#000" stroke-width="0.15">18¾"</text>
<line x1="375.3" y1="235.8" x2="375.3" y2="254.3" stroke="#444" stroke-width="0.35"/>
<line x1="354.1" y1="240.5" x2="375.3" y2="240.5" stroke="#333" stroke-width="0.35"/>
<polygon points="354.1,240.5 357.7,239.93 357.7,241.07" fill="#000"/>
<polygon points="375.3,240.5 371.7,241.07 371.7,239.93" fill="#000"/>
<text x="361.32" y="239.73" font-size="3.42" textLength="6.76" lengthAdjust="spacingAndGlyphs" transform="rotate(0.03 361.32 239.73)" stroke="#000" stroke-width="0.15">18¾"</text>
<line x1="375.3" y1="240.5" x2="416.8" y2="240.5" stroke="#333" stroke-width="0.35"/>
<polygon points="375.3,240.5 378.9,239.93 378.9,241.07" fill="#000"/>
<polygon points="416.8,240.5 413.2,241.07 413.2,239.93" fill="#000"/>
<text x="391.63" y="239.73" font-size="3.42" textLength="9.93" lengthAdjust="spacingAndGlyphs" transform="rotate(0.03 391.63 239.73)" stroke="#000" stroke-width="0.15">3' - 1½"</text>
<line x1="262" y1="240.5" x2="269.6" y2="240.5" stroke="#222" stroke-width="0.3"/>
<polygon points="269.6,240.5 266,241.07 266,239.93" fill="#000"/>
<line x1="262" y1="248" x2="269.6" y2="248" stroke="#222" stroke-width="0.3"/>
<polygon points="269.6,248 266,248.57 266,247.43" fill="#000"/>
<line x1="271" y1="248" x2="277.5" y2="248" stroke="#222" stroke-width="0.3"/>
<polygon points="271,248 274.6,247.43 274.6,248.57" fill="#000"/>
<circle cx="281.2" cy="247.8" r="2.3" fill="none" stroke="#222" stroke-width="0.4"/>
<text x="280.38" y="249.03" font-size="3.42" textLength="1.63" lengthAdjust="spacingAndGlyphs" transform="rotate(0.03 280.38 249.03)" stroke="#000" stroke-width="0.15">1</text>
<line x1="269.6" y1="228" x2="269.6" y2="254" stroke="#333" stroke-width="0.35" stroke-dasharray="2 0.8"/>
<line x1="221.6" y1="255.3" x2="409.6" y2="255.3" stroke="#333" stroke-width="0.65"/>
<line x1="221.6" y1="260.3" x2="409.6" y2="260.3" stroke="#333" stroke-width="0.65"/>
<line x1="221.6" y1="264.5" x2="409.6" y2="264.5" stroke="#2a2a2a" stroke-width="0.75"/>
<line x1="221.6" y1="269.3" x2="409.6" y2="269.3" stroke="#333" stroke-width="0.65"/>
<line x1="221.6" y1="273.3" x2="409.6" y2="273.3" stroke="#777" stroke-width="0.5"/>
<line x1="221.6" y1="278.3" x2="409.6" y2="278.3" stroke="#333" stroke-width="0.7"/>
<line x1="409.6" y1="255.3" x2="409.6" y2="278.3" stroke="#333" stroke-width="0.6"/>
<line x1="259.7" y1="254.68" x2="259.7" y2="290.3" stroke="#333" stroke-width="0.6"/>
<line x1="240.6" y1="278.3" x2="240.6" y2="291" stroke="#333" stroke-width="0.8"/>
<line x1="232.3" y1="256" x2="232.3" y2="290" stroke="#555" stroke-width="0.3" stroke-dasharray="1.2 0.8"/>
<line x1="251" y1="256" x2="251" y2="290" stroke="#555" stroke-width="0.3" stroke-dasharray="1.2 0.8"/>
<text x="243.76" y="289.14" font-size="3.17" textLength="2.49" lengthAdjust="spacingAndGlyphs" transform="rotate(0.03 243.76 289.14)" stroke="#000" stroke-width="0.15">2"</text>
<line x1="247" y1="288.2" x2="259.7" y2="288.2" stroke="#222" stroke-width="0.3"/>
<polygon points="259.7,288.2 256.1,288.77 256.1,287.62" fill="#000"/>
<line x1="259.7" y1="288.2" x2="265" y2="288.2" stroke="#222" stroke-width="0.3"/>
<polygon points="259.9,288.2 263.5,287.62 263.5,288.77" fill="#000"/>
<text x="262.55" y="260.35" font-size="2.93" textLength="2.29" lengthAdjust="spacingAndGlyphs" transform="rotate(0.03 262.55 260.35)" stroke="#000" stroke-width="0.15">1"</text>
<line x1="221.4" y1="301" x2="259.5" y2="301" stroke="#222" stroke-width="0.35"/>
<polygon points="221.4,301 225.6,300.35 225.6,301.65" fill="#000"/>
<polygon points="259.5,301 255.3,301.65 255.3,300.35" fill="#000"/>
<text x="235.44" y="299.43" font-size="3.42" textLength="9.12" lengthAdjust="spacingAndGlyphs" transform="rotate(0.03 235.44 299.43)" stroke="#000" stroke-width="0.15">2' - 10"</text>
<line x1="259.5" y1="292" x2="259.5" y2="329.4" stroke="#444" stroke-width="0.35"/>
<line x1="218.6" y1="312.3" x2="234" y2="312.3" stroke="#222" stroke-width="0.35"/>
<line x1="245" y1="312.3" x2="259.5" y2="312.3" stroke="#222" stroke-width="0.35"/>
<polygon points="218.6,312.3 222.8,311.65 222.8,312.95" fill="#000"/>
<polygon points="259.5,312.3 255.3,312.95 255.3,311.65" fill="#000"/>
<text x="237.17" y="313.27" font-size="3.54" textLength="4.46" lengthAdjust="spacingAndGlyphs" transform="rotate(0.03 237.17 313.27)" stroke="#000" stroke-width="0.15">30"</text>
<line x1="266.8" y1="254.3" x2="266.8" y2="290.4" stroke="#333" stroke-width="0.5"/>
<line x1="266.8" y1="290.4" x2="266.8" y2="301.2" stroke="#333" stroke-width="0.5" stroke-dasharray="1.9 0.9"/>
<line x1="269.3" y1="254.3" x2="269.3" y2="301.2" stroke="#333" stroke-width="0.55"/>
<line x1="271.8" y1="254.3" x2="271.8" y2="290.4" stroke="#555" stroke-width="0.45"/>
<line x1="271.8" y1="290.4" x2="271.8" y2="301.2" stroke="#444" stroke-width="0.5" stroke-dasharray="1.9 0.9"/>
<line x1="266.8" y1="254.3" x2="271.8" y2="254.3" stroke="#444" stroke-width="0.5"/>
<rect x="266.8" y="260.8" width="3" height="1.5" fill="#222" stroke="none" stroke-width="0.5"/>
<rect x="266.8" y="263.6" width="3" height="1.5" fill="#222" stroke="none" stroke-width="0.5"/>
<rect x="266.8" y="270.4" width="3" height="1.5" fill="#222" stroke="none" stroke-width="0.5"/>
<rect x="266.8" y="257.3" width="2.5" height="0.9" fill="#777" stroke="none" stroke-width="0.5"/>
<rect x="266.8" y="267" width="2.5" height="0.9" fill="#777" stroke="none" stroke-width="0.5"/>
<path d="M269.1 300.9 L266.3 303.1 M269.7 300.9 L272.5 303.1" stroke="#444" stroke-width="0.4" fill="none"/>
<line x1="288" y1="254.3" x2="288" y2="290.4" stroke="#333" stroke-width="0.5"/>
<line x1="288" y1="290.4" x2="288" y2="301.2" stroke="#333" stroke-width="0.5" stroke-dasharray="1.9 0.9"/>
<line x1="290.5" y1="254.3" x2="290.5" y2="301.2" stroke="#333" stroke-width="0.55"/>
<line x1="293" y1="254.3" x2="293" y2="290.4" stroke="#555" stroke-width="0.45"/>
<line x1="293" y1="290.4" x2="293" y2="301.2" stroke="#444" stroke-width="0.5" stroke-dasharray="1.9 0.9"/>
<line x1="288" y1="254.3" x2="293" y2="254.3" stroke="#444" stroke-width="0.5"/>
<rect x="288" y="260.8" width="3" height="1.5" fill="#222" stroke="none" stroke-width="0.5"/>
<rect x="288" y="263.6" width="3" height="1.5" fill="#222" stroke="none" stroke-width="0.5"/>
<rect x="288" y="270.4" width="3" height="1.5" fill="#222" stroke="none" stroke-width="0.5"/>
<rect x="288" y="257.3" width="2.5" height="0.9" fill="#777" stroke="none" stroke-width="0.5"/>
<rect x="288" y="267" width="2.5" height="0.9" fill="#777" stroke="none" stroke-width="0.5"/>
<path d="M290.3 300.9 L287.5 303.1 M290.9 300.9 L293.7 303.1" stroke="#444" stroke-width="0.4" fill="none"/>
<line x1="309.2" y1="254.3" x2="309.2" y2="290.4" stroke="#333" stroke-width="0.5"/>
<line x1="309.2" y1="290.4" x2="309.2" y2="301.2" stroke="#333" stroke-width="0.5" stroke-dasharray="1.9 0.9"/>
<line x1="311.7" y1="254.3" x2="311.7" y2="301.2" stroke="#333" stroke-width="0.55"/>
<line x1="314.2" y1="254.3" x2="314.2" y2="290.4" stroke="#555" stroke-width="0.45"/>
<line x1="314.2" y1="290.4" x2="314.2" y2="301.2" stroke="#444" stroke-width="0.5" stroke-dasharray="1.9 0.9"/>
<line x1="309.2" y1="254.3" x2="314.2" y2="254.3" stroke="#444" stroke-width="0.5"/>
<rect x="309.2" y="260.8" width="3" height="1.5" fill="#222" stroke="none" stroke-width="0.5"/>
<rect x="309.2" y="263.6" width="3" height="1.5" fill="#222" stroke="none" stroke-width="0.5"/>
<rect x="309.2" y="270.4" width="3" height="1.5" fill="#222" stroke="none" stroke-width="0.5"/>
<rect x="309.2" y="257.3" width="2.5" height="0.9" fill="#777" stroke="none" stroke-width="0.5"/>
<rect x="309.2" y="267" width="2.5" height="0.9" fill="#777" stroke="none" stroke-width="0.5"/>
<path d="M311.5 300.9 L308.7 303.1 M312.1 300.9 L314.9 303.1" stroke="#444" stroke-width="0.4" fill="none"/>
<line x1="330.4" y1="254.3" x2="330.4" y2="290.4" stroke="#333" stroke-width="0.5"/>
<line x1="330.4" y1="290.4" x2="330.4" y2="301.2" stroke="#333" stroke-width="0.5" stroke-dasharray="1.9 0.9"/>
<line x1="332.9" y1="254.3" x2="332.9" y2="301.2" stroke="#333" stroke-width="0.55"/>
<line x1="335.4" y1="254.3" x2="335.4" y2="290.4" stroke="#555" stroke-width="0.45"/>
<line x1="335.4" y1="290.4" x2="335.4" y2="301.2" stroke="#444" stroke-width="0.5" stroke-dasharray="1.9 0.9"/>
<line x1="330.4" y1="254.3" x2="335.4" y2="254.3" stroke="#444" stroke-width="0.5"/>
<rect x="330.4" y="260.8" width="3" height="1.5" fill="#222" stroke="none" stroke-width="0.5"/>
<rect x="330.4" y="263.6" width="3" height="1.5" fill="#222" stroke="none" stroke-width="0.5"/>
<rect x="330.4" y="270.4" width="3" height="1.5" fill="#222" stroke="none" stroke-width="0.5"/>
<rect x="330.4" y="257.3" width="2.5" height="0.9" fill="#777" stroke="none" stroke-width="0.5"/>
<rect x="330.4" y="267" width="2.5" height="0.9" fill="#777" stroke="none" stroke-width="0.5"/>
<path d="M332.7 300.9 L329.9 303.1 M333.3 300.9 L336.1 303.1" stroke="#444" stroke-width="0.4" fill="none"/>
<line x1="351.6" y1="254.3" x2="351.6" y2="290.4" stroke="#333" stroke-width="0.5"/>
<line x1="351.6" y1="290.4" x2="351.6" y2="301.2" stroke="#333" stroke-width="0.5" stroke-dasharray="1.9 0.9"/>
<line x1="354.1" y1="254.3" x2="354.1" y2="301.2" stroke="#333" stroke-width="0.55"/>
<line x1="356.6" y1="254.3" x2="356.6" y2="290.4" stroke="#555" stroke-width="0.45"/>
<line x1="356.6" y1="290.4" x2="356.6" y2="301.2" stroke="#444" stroke-width="0.5" stroke-dasharray="1.9 0.9"/>
<line x1="351.6" y1="254.3" x2="356.6" y2="254.3" stroke="#444" stroke-width="0.5"/>
<rect x="351.6" y="260.8" width="3" height="1.5" fill="#222" stroke="none" stroke-width="0.5"/>
<rect x="351.6" y="263.6" width="3" height="1.5" fill="#222" stroke="none" stroke-width="0.5"/>
<rect x="351.6" y="270.4" width="3" height="1.5" fill="#222" stroke="none" stroke-width="0.5"/>
<rect x="351.6" y="257.3" width="2.5" height="0.9" fill="#777" stroke="none" stroke-width="0.5"/>
<rect x="351.6" y="267" width="2.5" height="0.9" fill="#777" stroke="none" stroke-width="0.5"/>
<path d="M353.9 300.9 L351.1 303.1 M354.5 300.9 L357.3 303.1" stroke="#444" stroke-width="0.4" fill="none"/>
<line x1="372.8" y1="254.3" x2="372.8" y2="290.4" stroke="#333" stroke-width="0.5"/>
<line x1="372.8" y1="290.4" x2="372.8" y2="301.2" stroke="#333" stroke-width="0.5" stroke-dasharray="1.9 0.9"/>
<line x1="375.3" y1="254.3" x2="375.3" y2="301.2" stroke="#333" stroke-width="0.55"/>
<line x1="377.8" y1="254.3" x2="377.8" y2="290.4" stroke="#555" stroke-width="0.45"/>
<line x1="377.8" y1="290.4" x2="377.8" y2="301.2" stroke="#444" stroke-width="0.5" stroke-dasharray="1.9 0.9"/>
<line x1="372.8" y1="254.3" x2="377.8" y2="254.3" stroke="#444" stroke-width="0.5"/>
<rect x="372.8" y="260.8" width="3" height="1.5" fill="#222" stroke="none" stroke-width="0.5"/>
<rect x="372.8" y="263.6" width="3" height="1.5" fill="#222" stroke="none" stroke-width="0.5"/>
<rect x="372.8" y="270.4" width="3" height="1.5" fill="#222" stroke="none" stroke-width="0.5"/>
<rect x="372.8" y="257.3" width="2.5" height="0.9" fill="#777" stroke="none" stroke-width="0.5"/>
<rect x="372.8" y="267" width="2.5" height="0.9" fill="#777" stroke="none" stroke-width="0.5"/>
<path d="M375.1 300.9 L372.3 303.1 M375.7 300.9 L378.5 303.1" stroke="#444" stroke-width="0.4" fill="none"/>
<line x1="259.7" y1="290.3" x2="556" y2="290.3" stroke="#333" stroke-width="0.45" stroke-dasharray="1.6 1"/>
<line x1="409.6" y1="255.3" x2="555" y2="255.3" stroke="#333" stroke-width="0.55"/>
<line x1="423.6" y1="258.3" x2="555" y2="258.3" stroke="#444" stroke-width="0.35" stroke-dasharray="3 0.8 0.8 0.8"/>
<line x1="409.6" y1="260.8" x2="555" y2="260.8" stroke="#444" stroke-width="0.5"/>
<line x1="509" y1="264.5" x2="555" y2="264.5" stroke="#444" stroke-width="0.35" stroke-dasharray="3 0.8 0.8 0.8"/>
<line x1="509" y1="267.5" x2="555" y2="267.5" stroke="#333" stroke-width="0.55"/>
<line x1="423.1" y1="267" x2="495.3" y2="261.4" stroke="#555" stroke-width="0.35" stroke-dasharray="3 0.8 0.8 0.8"/>
<line x1="423.1" y1="269.4" x2="495.3" y2="262.4" stroke="#444" stroke-width="0.45"/>
<line x1="423.1" y1="273.2" x2="495.3" y2="265" stroke="#444" stroke-width="0.45"/>
<line x1="423.1" y1="277.6" x2="495.3" y2="267.8" stroke="#333" stroke-width="0.55"/>
<rect x="409.4" y="255.2" width="13.7" height="23" fill="none" stroke="#333" stroke-width="0.5"/>
<circle cx="412" cy="258.3" r="0.55" fill="#111"/>
<circle cx="421.3" cy="258.3" r="0.55" fill="#111"/>
<line x1="409.6" y1="258.3" x2="423.6" y2="258.3" stroke="#555" stroke-width="0.3"/>
<circle cx="412" cy="262.5" r="0.55" fill="#111"/>
<circle cx="421.3" cy="262.5" r="0.55" fill="#111"/>
<line x1="409.6" y1="262.5" x2="423.6" y2="262.5" stroke="#555" stroke-width="0.3"/>
<circle cx="412" cy="266.7" r="0.55" fill="#111"/>
<circle cx="421.3" cy="266.7" r="0.55" fill="#111"/>
<line x1="409.6" y1="266.7" x2="423.6" y2="266.7" stroke="#555" stroke-width="0.3"/>
<circle cx="412" cy="270.9" r="0.55" fill="#111"/>
<circle cx="421.3" cy="270.9" r="0.55" fill="#111"/>
<line x1="409.6" y1="270.9" x2="423.6" y2="270.9" stroke="#555" stroke-width="0.3"/>
<circle cx="412" cy="275.1" r="0.55" fill="#111"/>
<circle cx="421.3" cy="275.1" r="0.55" fill="#111"/>
<line x1="409.6" y1="275.1" x2="423.6" y2="275.1" stroke="#555" stroke-width="0.3"/>
<rect x="495.3" y="255.3" width="13.7" height="12.5" fill="none" stroke="#333" stroke-width="0.5"/>
<circle cx="497.5" cy="257.6" r="0.5" fill="#111"/>
<circle cx="507" cy="257.6" r="0.5" fill="#111"/>
<circle cx="497.5" cy="260.4" r="0.5" fill="#111"/>
<circle cx="507" cy="260.4" r="0.5" fill="#111"/>
<circle cx="497.5" cy="263.2" r="0.5" fill="#111"/>
<circle cx="507" cy="263.2" r="0.5" fill="#111"/>
<circle cx="497.5" cy="266" r="0.5" fill="#111"/>
<circle cx="507" cy="266" r="0.5" fill="#111"/>
<line x1="414.1" y1="254.3" x2="414.1" y2="290.4" stroke="#333" stroke-width="0.5"/>
<line x1="414.1" y1="290.4" x2="414.1" y2="301.2" stroke="#333" stroke-width="0.5" stroke-dasharray="1.9 0.9"/>
<line x1="416.6" y1="254.3" x2="416.6" y2="301.2" stroke="#333" stroke-width="0.55"/>
<line x1="419.1" y1="254.3" x2="419.1" y2="290.4" stroke="#555" stroke-width="0.45"/>
<line x1="419.1" y1="290.4" x2="419.1" y2="301.2" stroke="#444" stroke-width="0.5" stroke-dasharray="1.9 0.9"/>
<line x1="414.1" y1="254.3" x2="419.1" y2="254.3" stroke="#444" stroke-width="0.5"/>
<rect x="414.1" y="257.3" width="2.8" height="1.6" fill="#222" stroke="none" stroke-width="0.5"/>
<rect x="414.1" y="262.3" width="2.8" height="1.6" fill="#222" stroke="none" stroke-width="0.5"/>
<rect x="414.1" y="267.5" width="2.8" height="1.6" fill="#222" stroke="none" stroke-width="0.5"/>
<rect x="414.1" y="272.5" width="2.8" height="1.6" fill="#222" stroke="none" stroke-width="0.5"/>
<path d="M416.4 300.9 L413.6 303.1 M417 300.9 L419.8 303.1" stroke="#444" stroke-width="0.4" fill="none"/>
<line x1="457.7" y1="254.3" x2="457.7" y2="290.4" stroke="#333" stroke-width="0.5"/>
<line x1="457.7" y1="290.4" x2="457.7" y2="301.2" stroke="#333" stroke-width="0.5" stroke-dasharray="1.9 0.9"/>
<line x1="460.2" y1="254.3" x2="460.2" y2="301.2" stroke="#333" stroke-width="0.55"/>
<line x1="462.7" y1="254.3" x2="462.7" y2="290.4" stroke="#555" stroke-width="0.45"/>
<line x1="462.7" y1="290.4" x2="462.7" y2="301.2" stroke="#444" stroke-width="0.5" stroke-dasharray="1.9 0.9"/>
<line x1="457.7" y1="254.3" x2="462.7" y2="254.3" stroke="#444" stroke-width="0.5"/>
<rect x="457.7" y="257.3" width="2.8" height="1.6" fill="#222" stroke="none" stroke-width="0.5"/>
<rect x="457.7" y="262.3" width="2.8" height="1.6" fill="#222" stroke="none" stroke-width="0.5"/>
<path d="M460 300.9 L457.2 303.1 M460.6 300.9 L463.4 303.1" stroke="#444" stroke-width="0.4" fill="none"/>
<line x1="500.1" y1="254.3" x2="500.1" y2="290.4" stroke="#333" stroke-width="0.5"/>
<line x1="500.1" y1="290.4" x2="500.1" y2="298" stroke="#333" stroke-width="0.5" stroke-dasharray="1.9 0.9"/>
<line x1="502.6" y1="254.3" x2="502.6" y2="298" stroke="#333" stroke-width="0.55"/>
<line x1="505.1" y1="254.3" x2="505.1" y2="290.4" stroke="#555" stroke-width="0.45"/>
<line x1="505.1" y1="290.4" x2="505.1" y2="298" stroke="#444" stroke-width="0.5" stroke-dasharray="1.9 0.9"/>
<line x1="500.1" y1="254.3" x2="505.1" y2="254.3" stroke="#444" stroke-width="0.5"/>
<rect x="500.1" y="257.3" width="2.8" height="1.6" fill="#222" stroke="none" stroke-width="0.5"/>
<rect x="500.1" y="262.3" width="2.8" height="1.6" fill="#222" stroke="none" stroke-width="0.5"/>
<path d="M502.4 297.7 L499.6 299.9 M503 297.7 L505.8 299.9" stroke="#444" stroke-width="0.4" fill="none"/>
<line x1="542.5" y1="254.3" x2="542.5" y2="290.4" stroke="#333" stroke-width="0.5"/>
<line x1="542.5" y1="290.4" x2="542.5" y2="298" stroke="#333" stroke-width="0.5" stroke-dasharray="1.9 0.9"/>
<line x1="545" y1="254.3" x2="545" y2="298" stroke="#333" stroke-width="0.55"/>
<line x1="547.5" y1="254.3" x2="547.5" y2="290.4" stroke="#555" stroke-width="0.45"/>
<line x1="547.5" y1="290.4" x2="547.5" y2="298" stroke="#444" stroke-width="0.5" stroke-dasharray="1.9 0.9"/>
<line x1="542.5" y1="254.3" x2="547.5" y2="254.3" stroke="#444" stroke-width="0.5"/>
<rect x="542.5" y="257.3" width="2.8" height="1.6" fill="#222" stroke="none" stroke-width="0.5"/>
<rect x="542.5" y="262.3" width="2.8" height="1.6" fill="#222" stroke="none" stroke-width="0.5"/>
<path d="M544.8 297.7 L542 299.9 M545.4 297.7 L548.2 299.9" stroke="#444" stroke-width="0.4" fill="none"/>
<line x1="423" y1="218.7" x2="423" y2="254" stroke="#444" stroke-width="0.35"/>
<text x="435.1" y="221.92" font-size="3.66" textLength="44.8" lengthAdjust="spacingAndGlyphs" transform="rotate(0.03 435.1 221.92)" stroke="#000" stroke-width="0.15">THRIE TRANSITION SECTION</text>
<text x="448.2" y="225.92" font-size="3.66" textLength="17.5" lengthAdjust="spacingAndGlyphs" transform="rotate(0.03 448.2 225.92)" stroke="#000" stroke-width="0.15">(10 GAUGE)</text>
<line x1="417.8" y1="233" x2="460.2" y2="233" stroke="#333" stroke-width="0.35"/>
<polygon points="417.8,233 421.4,232.43 421.4,233.57" fill="#000"/>
<polygon points="460.2,233 456.6,233.57 456.6,232.43" fill="#000"/>
<line x1="460.2" y1="233" x2="502.6" y2="233" stroke="#333" stroke-width="0.35"/>
<polygon points="460.2,233 463.8,232.43 463.8,233.57" fill="#000"/>
<polygon points="502.6,233 499,233.57 499,232.43" fill="#000"/>
<line x1="502.6" y1="233" x2="545.3" y2="233" stroke="#333" stroke-width="0.35"/>
<polygon points="502.6,233 506.2,232.43 506.2,233.57" fill="#000"/>
<polygon points="545.3,233 541.7,233.57 541.7,232.43" fill="#000"/>
<text x="433.93" y="232.23" font-size="3.42" textLength="9.93" lengthAdjust="spacingAndGlyphs" transform="rotate(0.03 433.93 232.23)" stroke="#000" stroke-width="0.15">3' - 1½"</text>
<text x="476.93" y="232.23" font-size="3.42" textLength="9.93" lengthAdjust="spacingAndGlyphs" transform="rotate(0.03 476.93 232.23)" stroke="#000" stroke-width="0.15">3' - 1½"</text>
<text x="518.93" y="232.23" font-size="3.42" textLength="9.93" lengthAdjust="spacingAndGlyphs" transform="rotate(0.03 518.93 232.23)" stroke="#000" stroke-width="0.15">3' - 1½"</text>
<text x="425.8" y="236.72" font-size="3.66" textLength="26.5" lengthAdjust="spacingAndGlyphs" transform="rotate(0.03 425.8 236.72)" stroke="#000" stroke-width="0.15">TO CENTER LINE</text>
<text x="431.8" y="240.72" font-size="3.66" textLength="14.2" lengthAdjust="spacingAndGlyphs" transform="rotate(0.03 431.8 240.72)" stroke="#000" stroke-width="0.15">OF POST</text>
<text x="510.8" y="236.72" font-size="3.66" textLength="26.2" lengthAdjust="spacingAndGlyphs" transform="rotate(0.03 510.8 236.72)" stroke="#000" stroke-width="0.15">TO CENTER LINE</text>
<text x="516.8" y="240.72" font-size="3.66" textLength="14.2" lengthAdjust="spacingAndGlyphs" transform="rotate(0.03 516.8 240.72)" stroke="#000" stroke-width="0.15">OF POST</text>
<line x1="460.2" y1="229" x2="460.2" y2="254" stroke="#444" stroke-width="0.35"/>
<line x1="545.3" y1="229" x2="545.3" y2="254" stroke="#444" stroke-width="0.35"/>
<line x1="501.4" y1="202.9" x2="501.4" y2="254" stroke="#333" stroke-width="0.4"/>
<line x1="416.8" y1="229.5" x2="416.8" y2="254" stroke="#444" stroke-width="0.35"/>
<line x1="410.8" y1="245.7" x2="416.8" y2="245.7" stroke="#222" stroke-width="0.3"/>
<polygon points="416.8,245.7 413.2,246.27 413.2,245.12" fill="#000"/>
<line x1="423" y1="245.7" x2="431.5" y2="245.7" stroke="#222" stroke-width="0.3"/>
<polygon points="423,245.7 426.6,245.12 426.6,246.27" fill="#000"/>
<text x="432.94" y="246.93" font-size="3.42" textLength="5.13" lengthAdjust="spacingAndGlyphs" transform="rotate(0.03 432.94 246.93)" stroke="#000" stroke-width="0.15">6½"</text>
<line x1="410.8" y1="251.3" x2="416.8" y2="251.3" stroke="#222" stroke-width="0.3"/>
<polygon points="416.8,251.3 413.2,251.88 413.2,250.73" fill="#000"/>
<line x1="418.3" y1="251.3" x2="427.1" y2="251.3" stroke="#222" stroke-width="0.3"/>
<polygon points="418.3,251.3 421.9,250.73 421.9,251.88" fill="#000"/>
<circle cx="429.6" cy="251.4" r="2.3" fill="none" stroke="#222" stroke-width="0.4"/>
<text x="428.78" y="252.63" font-size="3.42" textLength="1.63" lengthAdjust="spacingAndGlyphs" transform="rotate(0.03 428.78 252.63)" stroke="#000" stroke-width="0.15">1</text>
<line x1="423" y1="243.5" x2="423" y2="255" stroke="#444" stroke-width="0.3"/>
<line x1="495.4" y1="245.7" x2="501.4" y2="245.7" stroke="#222" stroke-width="0.3"/>
<polygon points="501.4,245.7 497.8,246.27 497.8,245.12" fill="#000"/>
<line x1="508.9" y1="245.7" x2="518.6" y2="245.7" stroke="#222" stroke-width="0.3"/>
<polygon points="508.9,245.7 512.5,245.12 512.5,246.27" fill="#000"/>
<text x="520.04" y="246.93" font-size="3.42" textLength="5.13" lengthAdjust="spacingAndGlyphs" transform="rotate(0.03 520.04 246.93)" stroke="#000" stroke-width="0.15">6½"</text>
<line x1="495.4" y1="251.3" x2="501.4" y2="251.3" stroke="#222" stroke-width="0.3"/>
<polygon points="501.4,251.3 497.8,251.88 497.8,250.73" fill="#000"/>
<line x1="502.9" y1="251.3" x2="512.3" y2="251.3" stroke="#222" stroke-width="0.3"/>
<polygon points="502.9,251.3 506.5,250.73 506.5,251.88" fill="#000"/>
<circle cx="514.8" cy="251.4" r="2.3" fill="none" stroke="#222" stroke-width="0.4"/>
<text x="513.98" y="252.63" font-size="3.42" textLength="1.63" lengthAdjust="spacingAndGlyphs" transform="rotate(0.03 513.98 252.63)" stroke="#000" stroke-width="0.15">1</text>
<line x1="508.9" y1="243.5" x2="508.9" y2="255" stroke="#444" stroke-width="0.3"/>
<rect x="514.5" y="204.3" width="49.6" height="20.3" fill="#fff" stroke="#444" stroke-width="0.45"/>
<text x="520" y="209.92" font-size="3.66" textLength="37.5" lengthAdjust="spacingAndGlyphs" transform="rotate(0.03 520 209.92)" stroke="#000" stroke-width="0.15">BEGIN 12' - 6" OR 25' - 0"</text>
<text x="520.8" y="213.72" font-size="3.66" textLength="36.7" lengthAdjust="spacingAndGlyphs" transform="rotate(0.03 520.8 213.72)" stroke="#000" stroke-width="0.15">OF ITEM NO. 705-06.02</text>
<text x="516.1" y="217.62" font-size="3.66" textLength="46.4" lengthAdjust="spacingAndGlyphs" transform="rotate(0.03 516.1 217.62)" stroke="#000" stroke-width="0.15">MEDIAN DIVIDER GUARDRAIL</text>
<text x="524.7" y="221.62" font-size="3.66" textLength="29.3" lengthAdjust="spacingAndGlyphs" transform="rotate(0.03 524.7 221.62)" stroke="#000" stroke-width="0.15">(TYPE 2), PER L.F.</text>
<line x1="501.4" y1="213.3" x2="514.5" y2="213.3" stroke="#222" stroke-width="0.35"/>
<polygon points="501.4,213.3 505.6,212.65 505.6,213.95" fill="#000"/>
<path d="M556.5 241 C553 247 554 251 555.5 256 S557.5 264 555.5 270 S553 279 555.5 284 S557 288 555.5 291" stroke="#333" stroke-width="0.4" fill="none"/>
<line x1="409.6" y1="287.3" x2="507" y2="287.3" stroke="#333" stroke-width="0.35"/>
<polygon points="409.6,287.3 413.8,286.65 413.8,287.95" fill="#000"/>
<polygon points="507,287.3 502.8,287.95 502.8,286.65" fill="#000"/>
<line x1="409.6" y1="279" x2="409.6" y2="291" stroke="#444" stroke-width="0.35"/>
<line x1="508.3" y1="268" x2="508.3" y2="291" stroke="#444" stroke-width="0.35"/>
<text x="474.36" y="285.07" font-size="3.54" textLength="10.29" lengthAdjust="spacingAndGlyphs" transform="rotate(0.03 474.36 285.07)" stroke="#000" stroke-width="0.15">7' - 1½"</text>
<rect x="380" y="286" width="24" height="4" fill="#fff" stroke="none" stroke-width="0.5"/>
<text x="381.3" y="289.42" font-size="3.66" textLength="21.5" lengthAdjust="spacingAndGlyphs" transform="rotate(0.03 381.3 289.42)" stroke="#000" stroke-width="0.15">GROUND LINE</text>
<rect x="514" y="286" width="24" height="4" fill="#fff" stroke="none" stroke-width="0.5"/>
<text x="515.4" y="289.42" font-size="3.66" textLength="21.6" lengthAdjust="spacingAndGlyphs" transform="rotate(0.03 515.4 289.42)" stroke="#000" stroke-width="0.15">GROUND LINE</text>
<path d="M273 296.4 L275.8 292.2 M274 292.6 q-1.6 1.2 0 2 q1.6 0.8 0.2 1.9" stroke="#333" stroke-width="0.45" fill="none"/>
<path d="M276.1 296.4 L278.9 292.2 M277.1 292.6 q-1.6 1.2 0 2 q1.6 0.8 0.2 1.9" stroke="#333" stroke-width="0.45" fill="none"/>
<path d="M279.2 296.4 L282 292.2 M280.2 292.6 q-1.6 1.2 0 2 q1.6 0.8 0.2 1.9" stroke="#333" stroke-width="0.45" fill="none"/>
<path d="M282.3 296.4 L285.1 292.2 M283.3 292.6 q-1.6 1.2 0 2 q1.6 0.8 0.2 1.9" stroke="#333" stroke-width="0.45" fill="none"/>
<path d="M337.5 296.4 L340.3 292.2 M338.5 292.6 q-1.6 1.2 0 2 q1.6 0.8 0.2 1.9" stroke="#333" stroke-width="0.45" fill="none"/>
<path d="M340.6 296.4 L343.4 292.2 M341.6 292.6 q-1.6 1.2 0 2 q1.6 0.8 0.2 1.9" stroke="#333" stroke-width="0.45" fill="none"/>
<path d="M343.7 296.4 L346.5 292.2 M344.7 292.6 q-1.6 1.2 0 2 q1.6 0.8 0.2 1.9" stroke="#333" stroke-width="0.45" fill="none"/>
<path d="M346.8 296.4 L349.6 292.2 M347.8 292.6 q-1.6 1.2 0 2 q1.6 0.8 0.2 1.9" stroke="#333" stroke-width="0.45" fill="none"/>
<path d="M433 296.4 L435.8 292.2 M434 292.6 q-1.6 1.2 0 2 q1.6 0.8 0.2 1.9" stroke="#333" stroke-width="0.45" fill="none"/>
<path d="M436.1 296.4 L438.9 292.2 M437.1 292.6 q-1.6 1.2 0 2 q1.6 0.8 0.2 1.9" stroke="#333" stroke-width="0.45" fill="none"/>
<path d="M439.2 296.4 L442 292.2 M440.2 292.6 q-1.6 1.2 0 2 q1.6 0.8 0.2 1.9" stroke="#333" stroke-width="0.45" fill="none"/>
<path d="M442.3 296.4 L445.1 292.2 M443.3 292.6 q-1.6 1.2 0 2 q1.6 0.8 0.2 1.9" stroke="#333" stroke-width="0.45" fill="none"/>
<path d="M517.3 296.4 L520.1 292.2 M518.3 292.6 q-1.6 1.2 0 2 q1.6 0.8 0.2 1.9" stroke="#333" stroke-width="0.45" fill="none"/>
<path d="M520.4 296.4 L523.2 292.2 M521.4 292.6 q-1.6 1.2 0 2 q1.6 0.8 0.2 1.9" stroke="#333" stroke-width="0.45" fill="none"/>
<path d="M523.5 296.4 L526.3 292.2 M524.5 292.6 q-1.6 1.2 0 2 q1.6 0.8 0.2 1.9" stroke="#333" stroke-width="0.45" fill="none"/>
<path d="M526.6 296.4 L529.4 292.2 M527.6 292.6 q-1.6 1.2 0 2 q1.6 0.8 0.2 1.9" stroke="#333" stroke-width="0.45" fill="none"/>
<path d="M291 201.4 H298.2 V202.3 H295.4 L293.6 205.6 H290.6 L292.4 202.3 H291 Z" fill="#222"/>
<path d="M290.8 202 Q288.3 202.2 288.3 203.7 Q288.3 205.2 290.2 205.3" stroke="#222" stroke-width="0.5" fill="none"/>
<text x="300.8" y="205.42" font-size="3.66" textLength="99.3" lengthAdjust="spacingAndGlyphs" transform="rotate(0.03 300.8 205.42)" stroke="#000" stroke-width="0.15">705-06.20,  THRIE BEAM BRIDGE TRANSITION MASH TL3,  EACH</text>
<text x="409.5" y="205.42" font-size="3.66" textLength="16.4" lengthAdjust="spacingAndGlyphs" transform="rotate(0.03 409.5 205.42)" stroke="#000" stroke-width="0.15">( 25' - 7½" )</text>
<path d="M262.1 306 q-0.3 6.2 2.2 7.2 L362 309.9 q2.4 -0.1 2.6 -2.4 q0.2 2.3 2.6 2.4 L464.5 313.9 q2.3 -0.6 2.4 -7.2" stroke="#333" stroke-width="0.35" fill="none"/>
<path d="M496.6 300.4 q-0.2 4.2 1.8 4.8 L521.3 302.4 q1.8 -0.1 2 -1.6 q0.2 1.5 2 1.6 L548.8 305.2 q1.9 -0.6 1.9 -4.8" stroke="#333" stroke-width="0.35" fill="none"/>
<text x="359.57" y="317.87" font-size="3.54" textLength="9.47" lengthAdjust="spacingAndGlyphs" transform="rotate(0.03 359.57 317.87)" stroke="#000" stroke-width="0.15">W6 x 9</text>
<text x="347.61" y="321.97" font-size="3.54" textLength="33.38" lengthAdjust="spacingAndGlyphs" transform="rotate(0.03 347.61 321.97)" stroke="#000" stroke-width="0.15">(8 POST AT 8' LENGTH)</text>
<text x="308.4" y="327.27" font-size="3.54" textLength="117.9" lengthAdjust="spacingAndGlyphs" transform="rotate(0.03 308.4 327.27)" stroke="#000" stroke-width="0.15">W6 SEE STANDARD DRAWING S-GR31-1C FOR THRIE BEAM POST DETAILS</text>
<text x="519.36" y="308.74" font-size="3.17" textLength="8.49" lengthAdjust="spacingAndGlyphs" transform="rotate(0.03 519.36 308.74)" stroke="#000" stroke-width="0.15">W6 x 9</text>
<text x="517.01" y="311.94" font-size="3.17" textLength="13.19" lengthAdjust="spacingAndGlyphs" transform="rotate(0.03 517.01 311.94)" stroke="#000" stroke-width="0.15">(TYPICAL)</text>
<text x="269.9" y="346.22" font-size="5.6" font-weight="bold" textLength="45.7" lengthAdjust="spacingAndGlyphs" transform="rotate(0.03 269.9 346.22)" stroke="#000" stroke-width="0.3">ELEVATION VIEW</text>
<text x="246.2" y="369.08" font-size="6.6" font-weight="bold" textLength="93.8" lengthAdjust="spacingAndGlyphs" transform="rotate(0.03 246.2 369.08)" stroke="#000" stroke-width="0.3">CONCRETE MEDIAN BARRIER</text>
<text x="231.2" y="376.58" font-size="6.6" font-weight="bold" textLength="122.7" lengthAdjust="spacingAndGlyphs" transform="rotate(0.03 231.2 376.58)" stroke="#000" stroke-width="0.3">WITH DUAL GUARDRAIL CONNECTION</text>
<text x="209.5" y="396.38" font-size="6.6" font-weight="bold" textLength="166.9" lengthAdjust="spacingAndGlyphs" transform="rotate(0.03 209.5 396.38)" stroke="#000" stroke-width="0.3">TO BE USED WITH STANDARD DRAWING S-SSMB-6D</text>
<rect x="572.3" y="342" width="61.2" height="64" fill="#fff" stroke="#333" stroke-width="0.6"/>
<text x="585" y="345.84" font-size="3.17" font-weight="bold" textLength="36" lengthAdjust="spacingAndGlyphs" transform="rotate(0.03 585 345.84)">STATE OF TENNESSEE</text>
<line x1="585" y1="344.7" x2="621" y2="344.7" stroke="#222" stroke-width="0.9"/>
<path d="M589.6 345.9 H621.5 L610.7 353.4 H585.5 Z" stroke="#222" stroke-width="0.45" fill="none"/>
<text x="592" y="349.2" font-size="3.05" textLength="17.5" lengthAdjust="spacingAndGlyphs" transform="rotate(0.03 592 349.2)" stroke="#000" stroke-width="0.15">STANDARD</text>
<text x="593" y="352.6" font-size="3.05" textLength="15.5" lengthAdjust="spacingAndGlyphs" transform="rotate(0.03 593 352.6)" stroke="#000" stroke-width="0.15">DRAWING</text>
<text x="573.6" y="359.04" font-size="3.17" font-weight="bold" textLength="59.3" lengthAdjust="spacingAndGlyphs" transform="rotate(0.03 573.6 359.04)">DEPARTMENT OF TRANSPORTATION</text>
<line x1="573.6" y1="357.9" x2="632.9" y2="357.9" stroke="#222" stroke-width="0.9"/>
<line x1="572.3" y1="359.3" x2="633.5" y2="359.3" stroke="#333" stroke-width="0.5"/>
<text x="596.7" y="366.72" font-size="7" textLength="14.1" lengthAdjust="spacingAndGlyphs" transform="rotate(0.03 596.7 366.72)" stroke="#000" stroke-width="0.25">DUAL</text>
<text x="587.5" y="375.62" font-size="7" textLength="30.7" lengthAdjust="spacingAndGlyphs" transform="rotate(0.03 587.5 375.62)" stroke="#000" stroke-width="0.25">GUARDRAIL</text>
<text x="580.3" y="382.12" font-size="7" textLength="46" lengthAdjust="spacingAndGlyphs" transform="rotate(0.03 580.3 382.12)" stroke="#000" stroke-width="0.25">ATTACHMENT TO</text>
<text x="584.1" y="389.42" font-size="7" textLength="38.7" lengthAdjust="spacingAndGlyphs" transform="rotate(0.03 584.1 389.42)" stroke="#000" stroke-width="0.25">SINGLE SLOPE</text>
<text x="578.6" y="396.12" font-size="7" textLength="49.9" lengthAdjust="spacingAndGlyphs" transform="rotate(0.03 578.6 396.12)" stroke="#000" stroke-width="0.25">51" BARRIER WALL</text>
<line x1="572.3" y1="397" x2="633.5" y2="397" stroke="#333" stroke-width="0.5"/>
<line x1="591.5" y1="397" x2="591.5" y2="406" stroke="#333" stroke-width="0.5"/>
<text x="574" y="403.23" font-size="3.42" textLength="16" lengthAdjust="spacingAndGlyphs" transform="rotate(0.03 574 403.23)" stroke="#000" stroke-width="0.15">08-28-2019</text>
<text x="603" y="403.32" font-size="3.66" textLength="18" lengthAdjust="spacingAndGlyphs" transform="rotate(0.03 603 403.32)" stroke="#000" stroke-width="0.15">S-SSMB-6D</text>
</svg>
</body></html>
